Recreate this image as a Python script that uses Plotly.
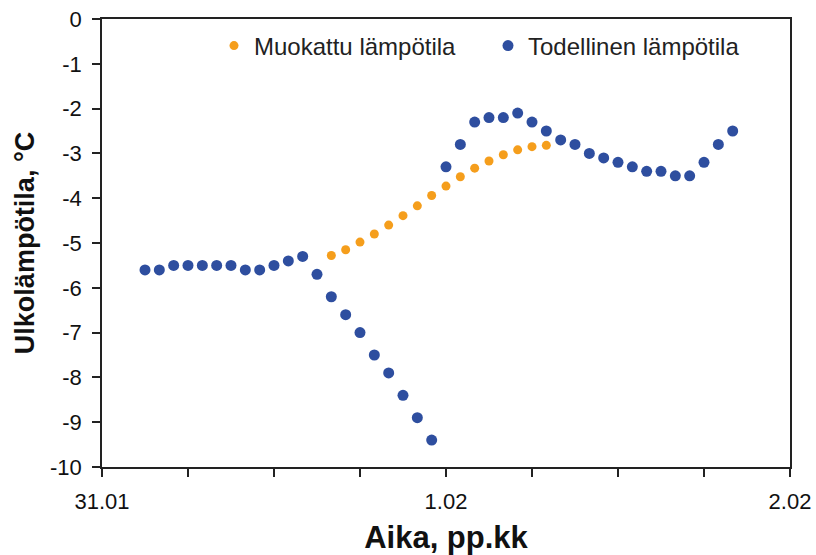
import plotly.graph_objects as go

# Hours since 31.01 00:00
real_hours = list(range(3, 45))
real_temp = [-5.6, -5.6, -5.5, -5.5, -5.5, -5.5, -5.5, -5.6, -5.6, -5.5, -5.4, -5.3,
             -5.7, -6.2, -6.6, -7.0, -7.5, -7.9, -8.4, -8.9, -9.4,
             -3.3, -2.8, -2.3, -2.2, -2.2, -2.1, -2.3, -2.5, -2.7, -2.8, -3.0, -3.1,
             -3.2, -3.3, -3.4, -3.4, -3.5, -3.5, -3.2, -2.8, -2.5]
mod_hours = list(range(16, 32))
mod_temp = [-5.28, -5.15, -4.98, -4.8, -4.6, -4.39, -4.17, -3.94, -3.73, -3.52,
            -3.33, -3.17, -3.03, -2.92, -2.85, -2.82]

x_tickvals = [0, 6, 12, 18, 24, 30, 36, 42, 48]
x_ticktext = ["31.01", "", "", "", "1.02", "", "", "", "2.02"]
y_tickvals = list(range(-10, 1))
y_ticktext = [str(v) for v in y_tickvals]

BLUE = "#2E4E9F"
ORANGE = "#F59E1C"
FONT = "Liberation Sans, Arial, sans-serif"

fig = go.Figure()
fig.add_trace(go.Scatter(x=real_hours, y=real_temp, mode="markers",
                         name="Todellinen lämpötila",
                         marker=dict(color=BLUE, size=11), legend="legend2"))
fig.add_trace(go.Scatter(x=mod_hours, y=mod_temp, mode="markers",
                         name="Muokattu lämpötila",
                         marker=dict(color=ORANGE, size=9), legend="legend"))

axis_common = dict(showgrid=False, zeroline=False, showline=True, linecolor="#222",
                   linewidth=1.5, ticks="outside", ticklen=8, tickwidth=1.5,
                   tickcolor="#222", mirror=True, automargin=False,
                   tickfont=dict(family=FONT, size=22, color="#111"))

legend_y = 1 - (46 - 19) / 448

fig.update_layout(
    width=816, height=555,
    margin=dict(l=102, r=26, t=19, b=88),
    paper_bgcolor="white", plot_bgcolor="white",
    font=dict(family=FONT, color="#111"),
    showlegend=True,
    xaxis=dict(range=[0, 48], tickvals=x_tickvals, ticktext=x_ticktext,
               ticklabelstandoff=6,
               title=dict(text="<b>Aika, pp.kk</b>", font=dict(family=FONT, size=31), standoff=14),
               **axis_common),
    yaxis=dict(range=[-10, 0], tickvals=y_tickvals, ticktext=y_ticktext,
               ticklabelstandoff=6,
               title=dict(text="<b>Ulkolämpötila, °C</b>", font=dict(family=FONT, size=27), standoff=8),
               **axis_common),
    legend=dict(x=(214 - 102) / 688, y=legend_y, xanchor="left", yanchor="middle",
                bgcolor="rgba(0,0,0,0)", font=dict(family=FONT, size=24, color="#222"),
                itemsizing="trace"),
    legend2=dict(x=(488 - 102) / 688, y=legend_y, xanchor="left", yanchor="middle",
                 bgcolor="rgba(0,0,0,0)", font=dict(family=FONT, size=24, color="#222"),
                 itemsizing="trace"),
)

fig.write_html("out.html")
